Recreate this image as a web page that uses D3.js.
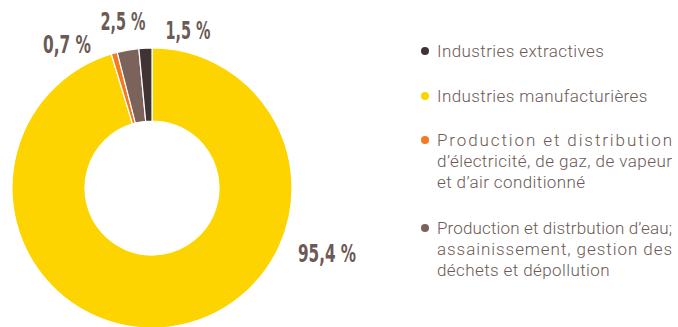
<!DOCTYPE html>
<html><head><meta charset="utf-8">
<script src="https://cdn.jsdelivr.net/npm/d3@7"></script>
<style>
html,body{margin:0;padding:0;background:#fff;}
svg{display:block;}
</style></head>
<body>
<svg id="chart" width="678" height="327"></svg>
<script>
// ---- data ----
const categories = ["Industries manufacturières", "Production et distribution d’électricité, de gaz, de vapeur et d’air conditionné", "Production et distrbution d’eau; assainissement, gestion des déchets et dépollution", "Industries extractives"];
const values = [95.4, 0.7, 2.5, 1.5];
const valueLabels = ["95,4 %", "0,7 %", "2,5 %", "1,5 %"];
const colors = ["#FDD300", "#F47A20", "#7B625A", "#3F3334"];
// legend order and wrapped lines
const legendOrder = [3, 0, 1, 2];
const legendLines = [
  ["Industries extractives"],
  ["Industries manufacturières"],
  ["Production et distribution", "d’électricité, de gaz, de vapeur", "et d’air conditionné"],
  ["Production et distrbution d’eau;", "assainissement, gestion des", "déchets et dépollution"]
];

// ---- layout ----
const cx = 152, cy = 188, rOuter = 140, rInner = 67;
const textColor = "#6B5A55";
const legendX = 437, legendRight = 672, bulletX = 425;
const legendFirstBaselines = [57, 102, 146, 234];
const lineStep = 21;
const justified = [[false], [false], [true, true, false], [true, true, false]];
const labelPos = [[327, 262, 58], [67, 53, 48], [123, 30, 45], [188, 39, 45]]; // x center, baseline, width

const svg = d3.select("#chart");
const g = svg.append("g").attr("transform", `translate(${cx},${cy})`);

const pie = d3.pie().sort(null).value(d => d)(values);
const arc = d3.arc().innerRadius(rInner).outerRadius(rOuter);

g.selectAll("path.slice").data(pie).join("path")
  .attr("class", "slice")
  .attr("d", arc)
  .attr("fill", (d, i) => colors[i])
  .attr("stroke", "#fff")
  .attr("stroke-width", 1.2)
  .attr("stroke-linejoin", "miter");

// value labels
svg.selectAll("text.val").data(valueLabels).join("text")
  .attr("class", "val")
  .attr("x", (d, i) => labelPos[i][0] - labelPos[i][2] / 2)
  .attr("y", (d, i) => labelPos[i][1])
  .attr("textLength", (d, i) => labelPos[i][2])
  .attr("lengthAdjust", "spacingAndGlyphs")
  .attr("font-family", "'Liberation Sans Narrow', 'DejaVu Sans Condensed', 'Roboto Condensed', sans-serif")
  .attr("font-weight", "bold")
  .attr("font-size", 24)
  .attr("fill", textColor)
  .text(d => d);

// legend
const leg = svg.append("g");
legendOrder.forEach((ci, k) => {
  const base = legendFirstBaselines[k];
  leg.append("circle")
    .attr("cx", bulletX).attr("cy", base - 6).attr("r", 4)
    .attr("fill", colors[ci]);
  legendLines[k].forEach((line, j) => {
    const t = leg.append("text")
      .attr("x", legendX)
      .attr("y", base + j * lineStep)
      .attr("font-family", "Roboto, 'Liberation Sans', Arial, sans-serif")
      .attr("font-weight", 300)
      .attr("font-size", 17)
      .attr("letter-spacing", justified[k][j] ? 0 : 0.4)
      .attr("fill", textColor)
      .text(line);
    if (justified[k][j]) {
      t.attr("textLength", legendRight - legendX).attr("lengthAdjust", "spacing");
    }
  });
});
</script>
</body></html>
